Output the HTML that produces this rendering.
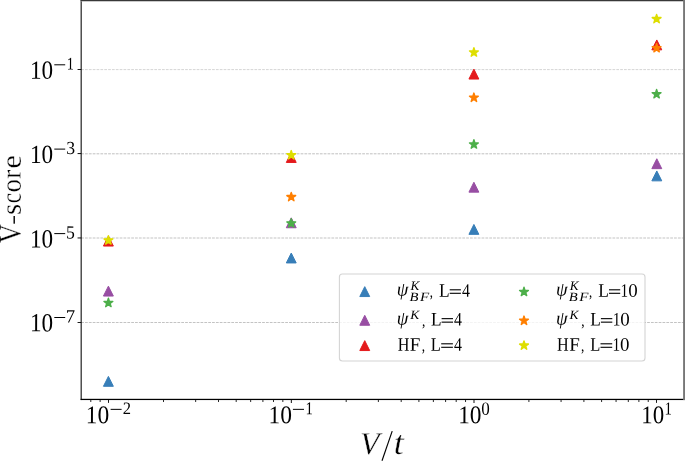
<!DOCTYPE html>
<html><head><meta charset="utf-8"><title>V-score</title>
<style>
html,body{margin:0;padding:0;background:#fff;}
svg{display:block;font-family:"Liberation Serif",serif;font-size:100px;}
text{font-kerning:none;white-space:pre;text-rendering:geometricPrecision;}
</style></head><body>
<svg width="685" height="462" viewBox="0 0 685 462">
<rect x="0" y="0" width="685" height="462" fill="#fff"/>
<line x1="81.16" y1="69.60" x2="685" y2="69.60" stroke="#d6d6d6" stroke-width="1" stroke-dasharray="2.75 1.1"/>
<line x1="81.16" y1="153.80" x2="685" y2="153.80" stroke="#c0c0c0" stroke-width="1" stroke-dasharray="2.75 1.1"/>
<line x1="81.16" y1="238.00" x2="685" y2="238.00" stroke="#c3c3c3" stroke-width="1" stroke-dasharray="2.75 1.1"/>
<line x1="81.16" y1="322.50" x2="685" y2="322.50" stroke="#c3c3c3" stroke-width="1" stroke-dasharray="2.75 1.1"/>
<polygon points="108.40,376.40 103.45,386.30 113.35,386.30" fill="#377eb8" stroke="#377eb8" stroke-width="1.00" stroke-linejoin="round"/>
<polygon points="291.25,253.05 286.30,262.95 296.20,262.95" fill="#377eb8" stroke="#377eb8" stroke-width="1.00" stroke-linejoin="round"/>
<polygon points="473.90,224.45 468.95,234.35 478.85,234.35" fill="#377eb8" stroke="#377eb8" stroke-width="1.00" stroke-linejoin="round"/>
<polygon points="656.80,170.95 651.85,180.85 661.75,180.85" fill="#377eb8" stroke="#377eb8" stroke-width="1.00" stroke-linejoin="round"/>
<polygon points="108.40,286.15 103.45,296.05 113.35,296.05" fill="#984ea3" stroke="#984ea3" stroke-width="1.00" stroke-linejoin="round"/>
<polygon points="291.25,217.85 286.30,227.75 296.20,227.75" fill="#984ea3" stroke="#984ea3" stroke-width="1.00" stroke-linejoin="round"/>
<polygon points="473.90,182.25 468.95,192.15 478.85,192.15" fill="#984ea3" stroke="#984ea3" stroke-width="1.00" stroke-linejoin="round"/>
<polygon points="656.80,158.75 651.85,168.65 661.75,168.65" fill="#984ea3" stroke="#984ea3" stroke-width="1.00" stroke-linejoin="round"/>
<polygon points="108.40,236.15 103.45,246.05 113.35,246.05" fill="#e41a1c" stroke="#e41a1c" stroke-width="1.00" stroke-linejoin="round"/>
<polygon points="291.25,152.55 286.30,162.45 296.20,162.45" fill="#e41a1c" stroke="#e41a1c" stroke-width="1.00" stroke-linejoin="round"/>
<polygon points="473.90,69.15 468.95,79.05 478.85,79.05" fill="#e41a1c" stroke="#e41a1c" stroke-width="1.00" stroke-linejoin="round"/>
<polygon points="656.80,39.95 651.85,49.85 661.75,49.85" fill="#e41a1c" stroke="#e41a1c" stroke-width="1.00" stroke-linejoin="round"/>
<polygon points="108.40,298.25 109.44,301.46 112.82,301.46 110.09,303.45 111.13,306.66 108.40,304.68 105.67,306.66 106.71,303.45 103.98,301.46 107.36,301.46" fill="#4daf4a" stroke="#4daf4a" stroke-width="1.40" stroke-linejoin="round"/>
<polygon points="291.25,218.65 292.29,221.86 295.67,221.86 292.94,223.85 293.98,227.06 291.25,225.08 288.52,227.06 289.56,223.85 286.83,221.86 290.21,221.86" fill="#4daf4a" stroke="#4daf4a" stroke-width="1.40" stroke-linejoin="round"/>
<polygon points="473.90,139.75 474.94,142.96 478.32,142.96 475.59,144.95 476.63,148.16 473.90,146.18 471.17,148.16 472.21,144.95 469.48,142.96 472.86,142.96" fill="#4daf4a" stroke="#4daf4a" stroke-width="1.40" stroke-linejoin="round"/>
<polygon points="656.60,89.45 657.64,92.66 661.02,92.66 658.29,94.65 659.33,97.86 656.60,95.88 653.87,97.86 654.91,94.65 652.18,92.66 655.56,92.66" fill="#4daf4a" stroke="#4daf4a" stroke-width="1.40" stroke-linejoin="round"/>
<polygon points="291.25,192.35 292.29,195.56 295.67,195.56 292.94,197.55 293.98,200.76 291.25,198.78 288.52,200.76 289.56,197.55 286.83,195.56 290.21,195.56" fill="#ff7f00" stroke="#ff7f00" stroke-width="1.40" stroke-linejoin="round"/>
<polygon points="473.90,93.05 474.94,96.26 478.32,96.26 475.59,98.25 476.63,101.46 473.90,99.48 471.17,101.46 472.21,98.25 469.48,96.26 472.86,96.26" fill="#ff7f00" stroke="#ff7f00" stroke-width="1.40" stroke-linejoin="round"/>
<polygon points="656.60,43.45 657.64,46.66 661.02,46.66 658.29,48.65 659.33,51.86 656.60,49.88 653.87,51.86 654.91,48.65 652.18,46.66 655.56,46.66" fill="#ff7f00" stroke="#ff7f00" stroke-width="1.40" stroke-linejoin="round"/>
<polygon points="108.40,235.65 109.44,238.86 112.82,238.86 110.09,240.85 111.13,244.06 108.40,242.08 105.67,244.06 106.71,240.85 103.98,238.86 107.36,238.86" fill="#dede00" stroke="#dede00" stroke-width="1.40" stroke-linejoin="round"/>
<polygon points="291.25,150.55 292.29,153.76 295.67,153.76 292.94,155.75 293.98,158.96 291.25,156.98 288.52,158.96 289.56,155.75 286.83,153.76 290.21,153.76" fill="#dede00" stroke="#dede00" stroke-width="1.40" stroke-linejoin="round"/>
<polygon points="473.90,47.75 474.94,50.96 478.32,50.96 475.59,52.95 476.63,56.16 473.90,54.18 471.17,56.16 472.21,52.95 469.48,50.96 472.86,50.96" fill="#dede00" stroke="#dede00" stroke-width="1.40" stroke-linejoin="round"/>
<polygon points="656.60,14.35 657.64,17.56 661.02,17.56 658.29,19.55 659.33,22.76 656.60,20.78 653.87,22.76 654.91,19.55 652.18,17.56 655.56,17.56" fill="#dede00" stroke="#dede00" stroke-width="1.40" stroke-linejoin="round"/>
<line x1="108.50" y1="399.43" x2="108.50" y2="402.88" stroke="#1c1c1c" stroke-width="1.05"/>
<line x1="291.35" y1="399.43" x2="291.35" y2="402.88" stroke="#1c1c1c" stroke-width="1.05"/>
<line x1="474.00" y1="399.43" x2="474.00" y2="402.88" stroke="#1c1c1c" stroke-width="1.05"/>
<line x1="656.50" y1="399.43" x2="656.50" y2="402.88" stroke="#1c1c1c" stroke-width="1.05"/>
<line x1="90.79" y1="399.43" x2="90.79" y2="402.03" stroke="#111" stroke-width="0.9"/>
<line x1="100.14" y1="399.43" x2="100.14" y2="402.03" stroke="#111" stroke-width="0.9"/>
<line x1="163.50" y1="399.43" x2="163.50" y2="402.03" stroke="#111" stroke-width="0.9"/>
<line x1="195.67" y1="399.43" x2="195.67" y2="402.03" stroke="#111" stroke-width="0.9"/>
<line x1="218.50" y1="399.43" x2="218.50" y2="402.03" stroke="#111" stroke-width="0.9"/>
<line x1="236.20" y1="399.43" x2="236.20" y2="402.03" stroke="#111" stroke-width="0.9"/>
<line x1="250.67" y1="399.43" x2="250.67" y2="402.03" stroke="#111" stroke-width="0.9"/>
<line x1="262.90" y1="399.43" x2="262.90" y2="402.03" stroke="#111" stroke-width="0.9"/>
<line x1="273.49" y1="399.43" x2="273.49" y2="402.03" stroke="#111" stroke-width="0.9"/>
<line x1="282.84" y1="399.43" x2="282.84" y2="402.03" stroke="#111" stroke-width="0.9"/>
<line x1="346.20" y1="399.43" x2="346.20" y2="402.03" stroke="#111" stroke-width="0.9"/>
<line x1="378.37" y1="399.43" x2="378.37" y2="402.03" stroke="#111" stroke-width="0.9"/>
<line x1="401.20" y1="399.43" x2="401.20" y2="402.03" stroke="#111" stroke-width="0.9"/>
<line x1="418.90" y1="399.43" x2="418.90" y2="402.03" stroke="#111" stroke-width="0.9"/>
<line x1="433.37" y1="399.43" x2="433.37" y2="402.03" stroke="#111" stroke-width="0.9"/>
<line x1="445.60" y1="399.43" x2="445.60" y2="402.03" stroke="#111" stroke-width="0.9"/>
<line x1="456.19" y1="399.43" x2="456.19" y2="402.03" stroke="#111" stroke-width="0.9"/>
<line x1="465.54" y1="399.43" x2="465.54" y2="402.03" stroke="#111" stroke-width="0.9"/>
<line x1="528.90" y1="399.43" x2="528.90" y2="402.03" stroke="#111" stroke-width="0.9"/>
<line x1="561.07" y1="399.43" x2="561.07" y2="402.03" stroke="#111" stroke-width="0.9"/>
<line x1="583.90" y1="399.43" x2="583.90" y2="402.03" stroke="#111" stroke-width="0.9"/>
<line x1="601.60" y1="399.43" x2="601.60" y2="402.03" stroke="#111" stroke-width="0.9"/>
<line x1="616.07" y1="399.43" x2="616.07" y2="402.03" stroke="#111" stroke-width="0.9"/>
<line x1="628.30" y1="399.43" x2="628.30" y2="402.03" stroke="#111" stroke-width="0.9"/>
<line x1="638.89" y1="399.43" x2="638.89" y2="402.03" stroke="#111" stroke-width="0.9"/>
<line x1="648.24" y1="399.43" x2="648.24" y2="402.03" stroke="#111" stroke-width="0.9"/>
<line x1="77.56" y1="69.50" x2="81.16" y2="69.50" stroke="#1c1c1c" stroke-width="1.05"/>
<line x1="77.56" y1="153.55" x2="81.16" y2="153.55" stroke="#1c1c1c" stroke-width="1.05"/>
<line x1="77.56" y1="237.95" x2="81.16" y2="237.95" stroke="#1c1c1c" stroke-width="1.05"/>
<line x1="77.56" y1="322.50" x2="81.16" y2="322.50" stroke="#1c1c1c" stroke-width="1.05"/>
<rect x="80.64" y="0.00" width="1.04" height="400.05" fill="#000"/>
<rect x="80.64" y="398.81" width="604.36" height="1.25" fill="#000"/>
<rect x="80.64" y="0.00" width="604.36" height="1.00" fill="#383838"/>
<rect x="81.68" y="1.00" width="603.32" height="1.00" fill="#cacaca"/>
<rect x="683.10" y="0.00" width="1.90" height="400.05" fill="#777"/>
<rect x="54.30" y="64.30" width="10.90" height="1.00" fill="#000"/>
<rect x="54.30" y="148.60" width="10.90" height="1.00" fill="#000"/>
<rect x="54.30" y="233.10" width="10.90" height="1.00" fill="#000"/>
<rect x="54.30" y="317.00" width="10.90" height="1.00" fill="#000"/>
<rect x="110.60" y="408.85" width="11.00" height="1.00" fill="#000"/>
<rect x="292.90" y="408.85" width="11.10" height="1.00" fill="#000"/>
<line x1="382.0" y1="460.7" x2="392.2" y2="431.1" stroke="#000" stroke-width="1.15"/>
<rect x="13.50" y="216.00" width="1.40" height="7.70" fill="#000"/>
<rect x="339.4" y="274.0" width="305.6" height="86.95" rx="3" fill="#fff" fill-opacity="0.8" stroke="#ccc" stroke-opacity="0.85" stroke-width="1.1"/>
<polygon points="364.75,286.65 359.80,296.55 369.70,296.55" fill="#377eb8" stroke="#377eb8" stroke-width="1.00" stroke-linejoin="round"/>
<polygon points="364.75,315.35 359.80,325.25 369.70,325.25" fill="#984ea3" stroke="#984ea3" stroke-width="1.00" stroke-linejoin="round"/>
<polygon points="364.75,340.65 359.80,350.55 369.70,350.55" fill="#e41a1c" stroke="#e41a1c" stroke-width="1.00" stroke-linejoin="round"/>
<polygon points="524.00,287.15 525.04,290.36 528.42,290.36 525.69,292.35 526.73,295.56 524.00,293.58 521.27,295.56 522.31,292.35 519.58,290.36 522.96,290.36" fill="#4daf4a" stroke="#4daf4a" stroke-width="1.40" stroke-linejoin="round"/>
<polygon points="524.00,316.05 525.04,319.26 528.42,319.26 525.69,321.25 526.73,324.46 524.00,322.48 521.27,324.46 522.31,321.25 519.58,319.26 522.96,319.26" fill="#ff7f00" stroke="#ff7f00" stroke-width="1.40" stroke-linejoin="round"/>
<polygon points="524.00,340.85 525.04,344.06 528.42,344.06 525.69,346.05 526.73,349.26 524.00,347.28 521.27,349.26 522.31,346.05 519.58,344.06 522.96,344.06" fill="#dede00" stroke="#dede00" stroke-width="1.40" stroke-linejoin="round"/>
<rect x="449.70" y="289.25" width="11.20" height="1.10" fill="#000"/>
<rect x="449.70" y="292.75" width="11.20" height="1.10" fill="#000"/>
<rect x="441.60" y="318.10" width="11.40" height="1.10" fill="#000"/>
<rect x="441.60" y="321.60" width="11.40" height="1.10" fill="#000"/>
<rect x="441.20" y="343.25" width="11.70" height="1.10" fill="#000"/>
<rect x="441.20" y="346.75" width="11.70" height="1.10" fill="#000"/>
<rect x="609.00" y="289.25" width="11.20" height="1.10" fill="#000"/>
<rect x="609.00" y="292.75" width="11.20" height="1.10" fill="#000"/>
<rect x="600.90" y="318.10" width="11.40" height="1.10" fill="#000"/>
<rect x="600.90" y="321.60" width="11.40" height="1.10" fill="#000"/>
<rect x="600.50" y="343.25" width="11.70" height="1.10" fill="#000"/>
<rect x="600.50" y="346.75" width="11.70" height="1.10" fill="#000"/>
<g id="txt" style="opacity:0.999">
<text transform="matrix(0.2311 0.00079 -0.00079 0.2623 29.919 78.644)" fill="#000">10</text>
<text transform="matrix(0.1420 0.00053 -0.00053 0.1765 66.852 69.600)" fill="#000">1</text>
<text transform="matrix(0.2311 0.00079 -0.00079 0.2623 29.919 162.944)" fill="#000">10</text>
<text transform="matrix(0.1767 0.00055 -0.00055 0.1838 66.154 153.920)" fill="#000">3</text>
<text transform="matrix(0.2311 0.00079 -0.00079 0.2623 29.919 247.444)" fill="#000">10</text>
<text transform="matrix(0.1763 0.00056 -0.00056 0.1858 65.976 238.419)" fill="#000">5</text>
<text transform="matrix(0.2311 0.00079 -0.00079 0.2623 29.919 331.344)" fill="#000">10</text>
<text transform="matrix(0.1851 0.00057 -0.00057 0.1886 65.780 322.500)" fill="#000">7</text>
<text transform="matrix(0.2345 0.00076 -0.00076 0.2549 85.839 423.151)" fill="#000">10</text>
<text transform="matrix(0.1646 0.00053 -0.00053 0.1752 122.676 414.000)" fill="#000">2</text>
<text transform="matrix(0.2345 0.00076 -0.00076 0.2549 268.539 423.151)" fill="#000">10</text>
<text transform="matrix(0.1477 0.00054 -0.00054 0.1803 305.602 414.200)" fill="#000">1</text>
<text transform="matrix(0.2334 0.00076 -0.00076 0.2549 458.149 423.151)" fill="#000">10</text>
<text transform="matrix(0.1699 0.00056 -0.00056 0.1867 481.153 414.718)" fill="#000">0</text>
<text transform="matrix(0.2288 0.00076 -0.00076 0.2549 641.189 423.151)" fill="#000">10</text>
<text transform="matrix(0.1477 0.00055 -0.00055 0.1833 664.402 414.400)" fill="#000">1</text>
<text transform="matrix(0.3177 0.00096 -0.00096 0.3209 359.940 454.214)" font-style="italic" stroke="#fff" stroke-width="0.93" fill="#000">V</text>
<text transform="matrix(0.3584 0.00102 -0.00102 0.3387 393.625 453.969)" font-style="italic" stroke="#fff" stroke-width="0.89" fill="#000">t</text>
<g transform="rotate(-90)">
<text transform="matrix(0.2644 0.00094 -0.00094 0.3150 -243.297 20.423)" stroke="#fff" stroke-width="1.11" fill="#000">V</text>
<text transform="matrix(0.3067 0.00085 -0.00085 0.2848 -168.798 20.722)" stroke="#fff" stroke-width="1.05" fill="#000">e</text>
<text transform="matrix(0.2728 0.00083 -0.00083 0.2780 -178.646 20.400)" stroke="#fff" stroke-width="1.08" fill="#000">r</text>
<text transform="matrix(0.2666 0.00085 -0.00085 0.2848 -192.415 20.722)" stroke="#fff" stroke-width="1.05" fill="#000">o</text>
<text transform="matrix(0.2320 0.00085 -0.00085 0.2848 -203.184 20.722)" stroke="#fff" stroke-width="1.05" fill="#000">c</text>
<text transform="matrix(0.2852 0.00085 -0.00085 0.2848 -215.070 20.722)" stroke="#fff" stroke-width="1.05" fill="#000">s</text>
</g>
<text transform="matrix(0.1859 0.00058 -0.00058 0.1928 396.793 295.596)" font-style="italic" fill="#000">ψ</text>
<text transform="matrix(0.1330 0.00039 -0.00039 0.1290 410.456 289.650)" font-style="italic" fill="#000">K</text>
<text transform="matrix(0.1467 0.00038 -0.00038 0.1262 409.564 301.063)" font-style="italic" fill="#000">B</text>
<text transform="matrix(0.1505 0.00038 -0.00038 0.1268 419.881 301.100)" font-style="italic" fill="#000">F</text>
<text transform="matrix(0.1277 0.00048 -0.00048 0.1596 429.813 296.845)" fill="#000">,</text>
<text transform="matrix(0.1743 0.00057 -0.00057 0.1917 438.998 296.700)" fill="#000">L</text>
<text transform="matrix(0.1592 0.00057 -0.00057 0.1914 461.989 296.700)" fill="#000">4</text>
<text transform="matrix(0.1859 0.00057 -0.00057 0.1915 396.793 324.622)" font-style="italic" fill="#000">ψ</text>
<text transform="matrix(0.1358 0.00038 -0.00038 0.1283 410.259 318.600)" font-style="italic" fill="#000">K</text>
<text transform="matrix(0.1343 0.00048 -0.00048 0.1596 421.889 326.045)" fill="#000">,</text>
<text transform="matrix(0.1724 0.00057 -0.00057 0.1917 431.003 325.550)" fill="#000">L</text>
<text transform="matrix(0.1592 0.00057 -0.00057 0.1914 454.089 325.550)" fill="#000">4</text>
<text transform="matrix(0.1611 0.00057 -0.00057 0.1917 397.636 350.700)" fill="#000">H</text>
<text transform="matrix(0.1893 0.00057 -0.00057 0.1917 409.855 350.700)" fill="#000">F</text>
<text transform="matrix(0.1343 0.00050 -0.00050 0.1674 421.689 351.025)" fill="#000">,</text>
<text transform="matrix(0.1648 0.00057 -0.00057 0.1917 430.825 350.700)" fill="#000">L</text>
<text transform="matrix(0.1592 0.00057 -0.00057 0.1914 453.889 350.700)" fill="#000">4</text>
<text transform="matrix(0.1859 0.00058 -0.00058 0.1928 556.093 295.596)" font-style="italic" fill="#000">ψ</text>
<text transform="matrix(0.1330 0.00039 -0.00039 0.1290 569.756 289.650)" font-style="italic" fill="#000">K</text>
<text transform="matrix(0.1467 0.00038 -0.00038 0.1262 568.864 301.063)" font-style="italic" fill="#000">B</text>
<text transform="matrix(0.1505 0.00038 -0.00038 0.1268 579.181 301.100)" font-style="italic" fill="#000">F</text>
<text transform="matrix(0.1277 0.00048 -0.00048 0.1596 589.113 296.845)" fill="#000">,</text>
<text transform="matrix(0.1743 0.00057 -0.00057 0.1917 598.298 296.700)" fill="#000">L</text>
<text transform="matrix(0.1521 0.00057 -0.00057 0.1901 620.586 296.700)" fill="#000">1</text>
<text transform="matrix(0.1888 0.00058 -0.00058 0.1926 628.181 296.762)" fill="#000">0</text>
<text transform="matrix(0.1859 0.00057 -0.00057 0.1915 556.093 324.622)" font-style="italic" fill="#000">ψ</text>
<text transform="matrix(0.1358 0.00038 -0.00038 0.1283 569.559 318.600)" font-style="italic" fill="#000">K</text>
<text transform="matrix(0.1343 0.00048 -0.00048 0.1596 581.189 326.045)" fill="#000">,</text>
<text transform="matrix(0.1724 0.00057 -0.00057 0.1917 590.303 325.550)" fill="#000">L</text>
<text transform="matrix(0.1521 0.00057 -0.00057 0.1901 612.686 325.550)" fill="#000">1</text>
<text transform="matrix(0.1888 0.00058 -0.00058 0.1926 620.281 325.612)" fill="#000">0</text>
<text transform="matrix(0.1611 0.00057 -0.00057 0.1917 556.936 350.700)" fill="#000">H</text>
<text transform="matrix(0.1893 0.00057 -0.00057 0.1917 569.155 350.700)" fill="#000">F</text>
<text transform="matrix(0.1343 0.00050 -0.00050 0.1674 580.989 351.025)" fill="#000">,</text>
<text transform="matrix(0.1648 0.00057 -0.00057 0.1917 590.125 350.700)" fill="#000">L</text>
<text transform="matrix(0.1521 0.00057 -0.00057 0.1901 612.486 350.700)" fill="#000">1</text>
<text transform="matrix(0.1888 0.00058 -0.00058 0.1926 620.081 350.762)" fill="#000">0</text>
</g>
</svg>
</body></html>
